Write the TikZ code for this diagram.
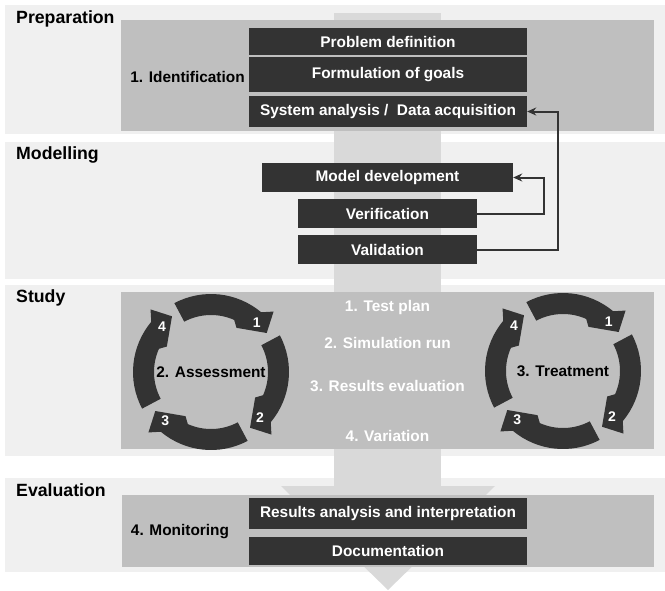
\documentclass[tikz,border=0pt]{standalone}
\usepackage{fontspec}
\setmainfont{Liberation Sans}
\usepackage{tikz}
\usetikzlibrary{arrows.meta}

\definecolor{felt}{HTML}{F0F0F0}
\definecolor{indre}{HTML}{BFBFBF}
\definecolor{pil}{HTML}{D9D9D9}
\definecolor{mork}{HTML}{333333}

\begin{document}
\begin{tikzpicture}[x=1pt, y=-1pt,
           tittel/.style={anchor=west, inner sep=0pt, font=\bfseries\fontsize{17.7}{20}\selectfont},
           tekst/.style={inner sep=0pt, font=\bfseries\fontsize{15.4}{17}\selectfont},
           boks/.style={tekst, fill=mork, text=white, minimum width=278pt},
           nummer/.style={inner sep=0pt, text=white, font=\bfseries\fontsize{14}{16}\selectfont},
           tilbake/.style={draw=mork, line width=2pt, -{Stealth[length=9pt,width=8pt]}}]
           \useasboundingbox (0,0) rectangle (665,590);

           % Feltene
           \fill[felt] (5,5) rectangle (665,134);
           \fill[felt] (5,142) rectangle (665,279);
           \fill[felt] (5,285) rectangle (665,456);
           \fill[felt] (5,478) rectangle (665,572);

           % Den store pilen
           \fill[pil] (334,13) rectangle (441,486);
           \fill[pil] (281,486) -- (495,486) -- (388,590) -- cycle;

           % Indre felt
           \fill[indre] (121,20) rectangle (654,131);
           \fill[indre] (121,292) rectangle (654,449);
           \fill[indre] (122,495) rectangle (654,567);

           % Preparation
           \node[tittel] (prep) at (16,18.5) {Preparation};
           \node[tekst] (ident) at (187.5,77) {1. Identification};
           \node[boks, minimum height=27pt] (problem) at (388,41.5) {Problem definition};
           \node[boks, minimum height=35pt] (maal) at (388,74.5) {Formulation of goals};
           \node[boks, minimum height=31pt] (system) at (388,111.5) {System analysis /\ \ Data acquisition};

           % Modelling
           \node[tittel] (modl) at (16,154.5) {Modelling};
           \node[boks, minimum width=251pt, minimum height=29pt] (modell) at (387.5,177.5) {Model development};
           \node[boks, minimum width=179pt, minimum height=29pt] (verif) at (387.5,213.5) {Verification};
           \node[boks, minimum width=179pt, minimum height=29pt] (valid) at (387.5,249.5) {Validation};
           \draw[tilbake] (verif.east) -- ++(67,0) |- (modell.east);
           \draw[tilbake] (valid.east) -- ++(81,0) |- (system.east);

           % Study
           \node[tittel] (study) at (16,298) {Study};
           \node[tekst, text=white] (plan) at (387.5,308) {1. Test plan};
           \node[tekst, text=white] (sim) at (387.5,343) {2. Simulation run};
           \node[tekst, text=white] (res) at (387.5,386) {3. Results evaluation};
           \node[tekst, text=white] (var) at (387.5,436) {4. Variation};

           % Sirklene
           \foreach \cx/\cy/\nv/\txt in {211/372/v/2. Assessment, 563/371/h/3. Treatment} {
             \begin{scope}[shift={(\cx,\cy)}]
               \foreach \s/\n in {-118/1, -28/2, 62/3, 152/4} {
                 \fill[mork] ({\s}:78) arc[start angle=\s, end angle=\s+68, radius=78]
                   -- ({\s+74}:87) -- ({\s+83}:68) -- ({\s+58}:51)
                   -- ({\s+52}:57) arc[start angle=\s+52, end angle=\s, radius=57] -- cycle;
                 \node[nummer] (\nv\n) at ({\s+71}:67) {\n};
               }
               \node[tekst] (\nv) at (0,0) {\txt};
             \end{scope}
           }

           % Evaluation
           \node[tittel] (eval) at (16,490) {Evaluation};
           \node[tekst] (monit) at (180,532) {4. Monitoring};
           \node[boks, minimum height=31pt] (analyse) at (388,513.5) {Results analysis and interpretation};
           \node[boks, minimum height=28pt] (dok) at (388,551) {Documentation};
\end{tikzpicture}
\end{document}
